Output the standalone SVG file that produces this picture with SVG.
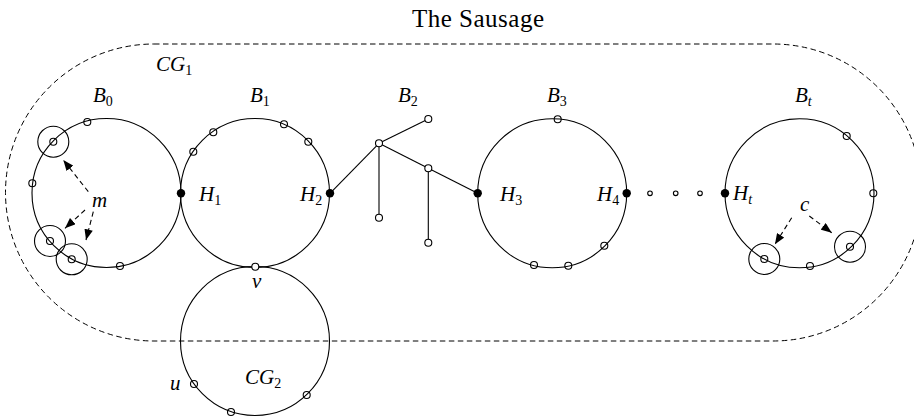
<svg xmlns="http://www.w3.org/2000/svg" width="914" height="419" viewBox="0 0 914 419">
<style>
.big{fill:none;stroke:#000;stroke-width:1.1}
.sm{fill:none;stroke:#000;stroke-width:1.1}
.smw{fill:#fff;stroke:#000;stroke-width:1.1}
.ring{fill:none;stroke:#000;stroke-width:1.1}
.dot{fill:#000;stroke:none}
.edge{stroke:#000;stroke-width:1.1;fill:none}
.dash{fill:none;stroke:#000;stroke-width:1;stroke-dasharray:5.5 3.5}
.arr{fill:none;stroke:#000;stroke-width:1.1;stroke-dasharray:5 3.5;marker-end:url(#ah)}
.lbl{font-family:"Liberation Serif",serif;font-style:italic;font-size:21px;fill:#000}
.sub{font-style:normal;font-size:14px}
.subi{font-style:italic;font-size:14px}
</style>
<defs>
<marker id="ah" viewBox="0 0 10 8" refX="10" refY="4" markerWidth="11" markerHeight="8.5" markerUnits="userSpaceOnUse" orient="auto">
<path d="M0,0 L10,4 L0,8 Z" fill="#000"/>
</marker>
</defs>

<text font-family="Liberation Serif, serif" font-size="25" fill="#000" x="412" y="27" textLength="132">The Sausage</text>

<g id="CG1">
<path class="dash" d="M154,44 H773 A148.5,148.5 0 0 1 773,341 H154 A148.5,148.5 0 0 1 154,44 Z"/>
<text class="lbl" x="156" y="71">CG<tspan class="sub" dy="4">1</tspan></text>
</g>

<g id="B0">
<circle class="big" cx="106.5" cy="193" r="74.5"/>
<circle class="sm" cx="53.3" cy="141.7" r="3.5"/>
<circle class="ring" cx="53.3" cy="141.7" r="15.5"/>
<circle class="sm" cx="87.3" cy="122" r="3.5"/>
<circle class="sm" cx="32.3" cy="183.3" r="3.5"/>
<circle class="sm" cx="50" cy="241" r="3.5"/>
<circle class="ring" cx="50" cy="241" r="15.5"/>
<circle class="sm" cx="71.7" cy="259.3" r="3.5"/>
<circle class="ring" cx="71.7" cy="259.3" r="15.5"/>
<circle class="sm" cx="120" cy="266" r="3.5"/>
<text class="lbl" x="93" y="102">B<tspan class="sub" dy="4">0</tspan></text>
</g>

<g id="B1">
<circle class="big" cx="255" cy="193" r="74.5"/>
<circle class="sm" cx="193.3" cy="151.7" r="3.5"/>
<circle class="sm" cx="213.3" cy="132.3" r="3.5"/>
<circle class="sm" cx="284" cy="124.3" r="3.5"/>
<circle class="sm" cx="308.3" cy="141.7" r="3.5"/>
<text class="lbl" x="250" y="102">B<tspan class="sub" dy="4">1</tspan></text>
</g>

<g id="CG2">
<circle class="big" cx="255" cy="341" r="74.5"/>
<circle class="sm" cx="194" cy="384" r="3.5"/>
<circle class="sm" cx="231" cy="412" r="3.5"/>
<circle class="sm" cx="306.7" cy="395" r="3.5"/>
<text class="lbl" x="245" y="384">CG<tspan class="sub" dy="4">2</tspan></text>
<text class="lbl" x="170" y="390">u</text>
</g>

<g id="v">
<circle class="smw" cx="255.3" cy="266.7" r="3.5"/>
<text class="lbl" x="252" y="288">v</text>
</g>

<g id="connectors">
<line class="edge" x1="330" y1="193.3" x2="379" y2="143.3"/>
<line class="edge" x1="379" y1="143.3" x2="428.3" y2="119"/>
<line class="edge" x1="379" y1="143.3" x2="428.3" y2="168.3"/>
<line class="edge" x1="428.3" y1="168.3" x2="477.7" y2="193.3"/>
<line class="edge" x1="379" y1="143.3" x2="379" y2="217.7"/>
<line class="edge" x1="428.3" y1="168.3" x2="428.3" y2="242.7"/>
<line class="arr" x1="88.3" y1="191.7" x2="63.3" y2="160"/>
<line class="arr" x1="85" y1="210" x2="65" y2="228.3"/>
<line class="arr" x1="93.3" y1="211.7" x2="86" y2="240"/>
<line class="arr" x1="791.7" y1="217.7" x2="775" y2="244.3"/>
<line class="arr" x1="809.3" y1="216" x2="831.7" y2="232.7"/>
</g>

<g id="B2">
<circle class="smw" cx="379" cy="143.3" r="3.5"/>
<circle class="smw" cx="428.3" cy="119" r="3.5"/>
<circle class="smw" cx="428.3" cy="168.3" r="3.5"/>
<circle class="smw" cx="379" cy="217.7" r="3.5"/>
<circle class="smw" cx="428.3" cy="242.7" r="3.5"/>
<text class="lbl" x="398" y="102">B<tspan class="sub" dy="4">2</tspan></text>
</g>

<g id="B3">
<circle class="big" cx="552.2" cy="193.3" r="74.5"/>
<circle class="sm" cx="557.7" cy="119.3" r="3.5"/>
<circle class="sm" cx="604.3" cy="245.7" r="3.5"/>
<circle class="sm" cx="568.3" cy="265.7" r="3.5"/>
<circle class="sm" cx="534" cy="265" r="3.5"/>
<text class="lbl" x="547" y="102">B<tspan class="sub" dy="4">3</tspan></text>
</g>

<g id="Bt">
<circle class="big" cx="799.5" cy="193.3" r="74.5"/>
<circle class="sm" cx="846.7" cy="136" r="3.5"/>
<circle class="sm" cx="873.3" cy="193.3" r="3.5"/>
<circle class="sm" cx="850" cy="246.7" r="3.5"/>
<circle class="ring" cx="850" cy="246.7" r="15.5"/>
<circle class="sm" cx="810" cy="266" r="3.5"/>
<circle class="sm" cx="764.3" cy="259" r="3.5"/>
<circle class="ring" cx="764.3" cy="259" r="15.5"/>
<text class="lbl" x="795" y="102">B<tspan class="subi" dy="4">t</tspan></text>
</g>

<g id="H1"><circle class="dot" cx="181" cy="193.3" r="4.2"/><text class="lbl" x="199" y="201">H<tspan class="sub" dy="4">1</tspan></text></g>
<g id="H2"><circle class="dot" cx="330" cy="193.3" r="4.2"/><text class="lbl" x="300" y="201">H<tspan class="sub" dy="4">2</tspan></text></g>
<g id="H3"><circle class="dot" cx="477.7" cy="193.3" r="4.2"/><text class="lbl" x="500" y="201">H<tspan class="sub" dy="4">3</tspan></text></g>
<g id="H4"><circle class="dot" cx="626.7" cy="193.3" r="4.2"/><text class="lbl" x="597" y="201">H<tspan class="sub" dy="4">4</tspan></text></g>
<g id="Ht"><circle class="dot" cx="725" cy="193.3" r="4.2"/><text class="lbl" x="733" y="200">H<tspan class="subi" dy="4">t</tspan></text></g>

<g id="ellipsis">
<circle class="sm" cx="650" cy="193.3" r="2.3"/>
<circle class="sm" cx="675.7" cy="193.3" r="2.3"/>
<circle class="sm" cx="700" cy="193.3" r="2.3"/>
</g>

<g id="m"><text class="lbl" x="92" y="207">m</text></g>
<g id="c"><text class="lbl" x="800" y="211">c</text></g>
</svg>
